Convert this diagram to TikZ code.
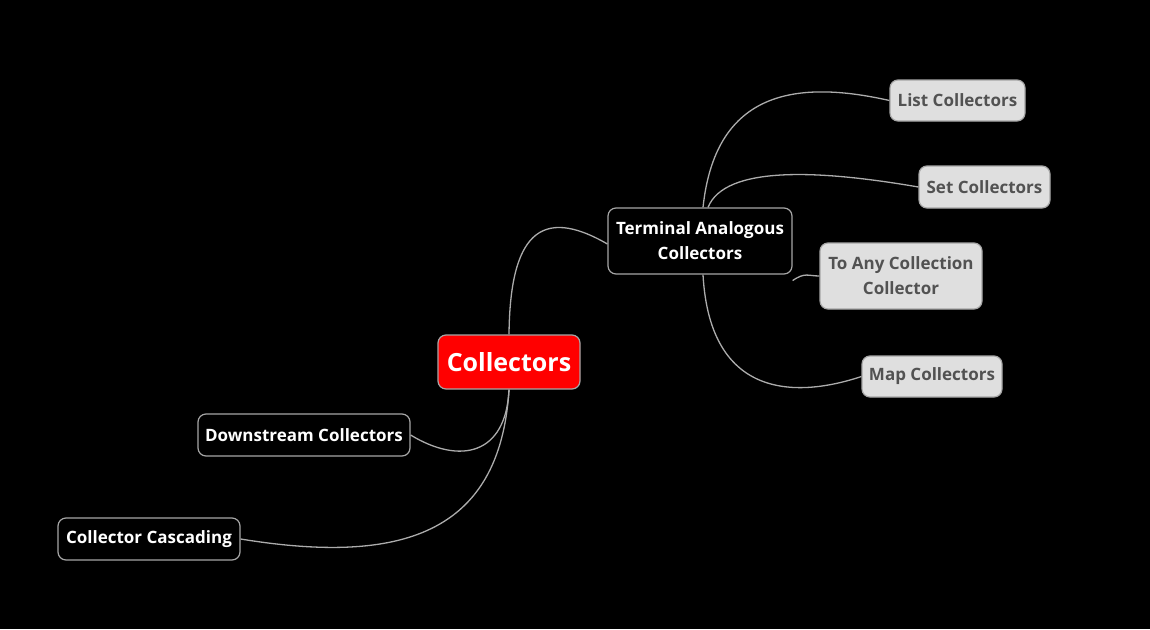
\documentclass[tikz,border=0pt]{standalone}
\usepackage{fontspec}
\setmainfont{Open Sans}
\begin{document}
\begin{tikzpicture}[x=1pt,y=-1pt,
  base/.style={rounded corners=8pt, draw=gray!70, line width=1.2pt, align=center, font=\fontsize{17}{25}\selectfont\bfseries, inner sep=0pt},
  dark/.style={base, fill=black, text=white},
  light/.style={base, fill=gray!25, text=black!68},
  root/.style={base, fill=red, text=white, font=\fontsize{25}{30}\selectfont\bfseries},
  link/.style={draw=gray!65, line width=1.3pt}]
\fill[black] (0,0) rectangle (1150,629);
\useasboundingbox (0,0) rectangle (1150,629);
\node[root, minimum width=142pt, minimum height=54pt] (c) at (509,362) {Collectors};
\node[dark, minimum width=184pt, minimum height=66pt] (t) at (700,241) {Terminal Analogous\\Collectors};
\node[light, minimum width=135pt, minimum height=41pt] (l) at (957.5,100.5) {List Collectors};
\node[light, minimum width=131pt, minimum height=42pt] (s) at (984.5,187) {Set Collectors};
\node[light, minimum width=162pt, minimum height=66pt] (a) at (901,276) {To Any Collection\\Collector};
\node[light, minimum width=140pt, minimum height=41pt] (m) at (932,376.5) {Map Collectors};
\node[dark, minimum width=212pt, minimum height=42pt] (d) at (304,435) {Downstream Collectors};
\node[dark, minimum width=182pt, minimum height=42pt] (k) at (149,539) {Collector Cascading};
\draw[link] (c.north) .. controls (510,235) and (540,205) .. ([yshift=-3pt]t.west);
\draw[link] (c.south) .. controls (506,455) and (460,465) .. (d.east);
\draw[link] (c.south) .. controls (500,535) and (400,565) .. (k.east);
\draw[link] ([xshift=3pt]t.north) .. controls (715,95) and (790,78) .. (l.west);
\draw[link] ([xshift=8pt]t.north) .. controls (725,165) and (820,170) .. (s.west);
\draw[link] ([yshift=-6pt]t.south east) .. controls (805,272) and (808,276) .. (a.west);
\draw[link] ([xshift=3pt]t.south) .. controls (710,402) and (800,397) .. (m.west);
\end{tikzpicture}
\end{document}
